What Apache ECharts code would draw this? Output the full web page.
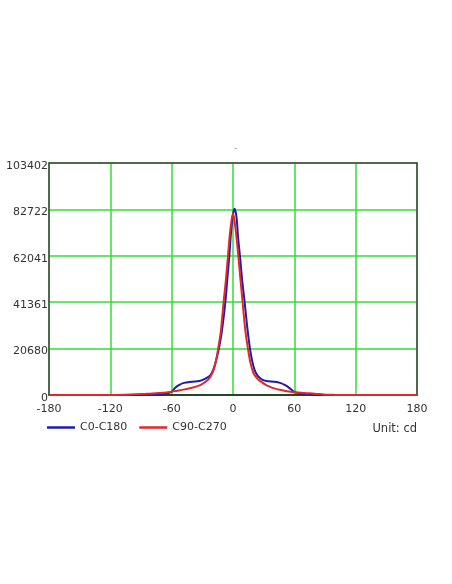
<!DOCTYPE html>
<html><head><meta charset="utf-8">
<script src="https://cdn.jsdelivr.net/npm/echarts@6/dist/echarts.min.js"></script>
<style>html,body{margin:0;padding:0;background:#fff}#c{width:452px;height:584px}</style>
</head><body><div id="c"></div>
<script>
var seriesNames = ['C0-C180', 'C90-C270'];
var yTickLabels = [0, 20680, 41361, 62041, 82722, 103402];
var xTickLabels = [-180, -120, -60, 0, 60, 120, 180];

var blueAngles = [-180, -120, -90, -80, -70, -65, -60, -57, -53, -48, -40, -33, -27, -22, -19, -16.5, -13.8, -11, -7.5, -5.5, -3.6, -2, 0, 1.6, 3.5, 5, 6.8, 9, 11.4, 14, 16.6, 18.6, 21, 24, 28, 33, 40, 46, 51, 55, 60, 65, 70, 80, 90, 120, 180];
var blueValues = [0, 0, 50, 150, 300, 700, 1500, 3000, 4400, 5400, 5900, 6200, 7300, 8900, 11600, 15500, 20680, 28000, 41361, 52000, 62041, 72000, 80500, 83000, 79000, 70000, 62041, 51000, 41361, 30000, 20680, 15560, 11300, 8600, 7000, 6200, 5900, 5400, 4400, 3200, 1400, 800, 500, 150, 50, 0, 0];

var redAngles = [-180, -120, -100, -84, -68, -60, -52, -42, -32, -24, -20, -17, -14.5, -12, -9.2, -7, -4.9, -2.5, 0, 2.5, 5.2, 7, 9.4, 12, 14.6, 17, 20, 24, 28.4, 33, 38, 48, 58, 70, 80, 90, 100, 120, 180];
var redValues = [0, 0, 200, 600, 1000, 1500, 2100, 3000, 4400, 7000, 10000, 14500, 20680, 28000, 41361, 51000, 62041, 74000, 81000, 74000, 62041, 53000, 41361, 29000, 20680, 14500, 9800, 7200, 5600, 4300, 3300, 2100, 1360, 900, 600, 150, 50, 0, 0];

function pairs(xs, ys) { return xs.map(function (x, i) { return [x, ys[i]]; }); }

var chart = echarts.init(document.getElementById('c'), null, {renderer: 'canvas'});
var font = 'DejaVu Sans';
var xMin = xTickLabels[0], xMax = xTickLabels[xTickLabels.length - 1];
var yMax = yTickLabels[yTickLabels.length - 1];
var borderAxis = {show: true, onZero: false, lineStyle: {color: '#444', width: 1.5}};
chart.setOption({
  animation: false,
  backgroundColor: '#fff',
  title: {text: '-', left: 229, top: 139, textStyle: {fontSize: 9, color: '#888', fontWeight: 'normal', fontFamily: font}},
  grid: {left: 49, right: 35, top: 163, bottom: 189, containLabel: false},
  legend: {
    left: 42, top: 417, itemWidth: 28, itemHeight: 14, itemGap: 12,
    icon: 'path://M0,6 L28,6 L28,8.5 L0,8.5 Z',
    textStyle: {fontFamily: font, fontSize: 11, color: '#333'},
    data: seriesNames
  },
  graphic: [{type: 'text', right: 35, top: 423, style: {text: 'Unit: cd', font: '11.5px "DejaVu Sans"', fill: '#333'}}],
  xAxis: [{
    type: 'value', min: xMin, max: xMax, interval: 60, position: 'bottom',
    axisLine: {show: true, onZero: false, lineStyle: {color: '#111', width: 1.5}},
    axisTick: {show: false},
    axisLabel: {fontFamily: font, fontSize: 11, color: '#333', margin: 9},
    splitLine: {show: true, lineStyle: {color: '#33dd33', width: 1.5}}
  }, {
    type: 'value', min: xMin, max: xMax, interval: 60, position: 'top',
    axisLine: borderAxis, axisTick: {show: false}, axisLabel: {show: false}, splitLine: {show: false}
  }],
  yAxis: [{
    type: 'value', min: 0, max: yMax, interval: yMax / 5, position: 'left',
    axisLine: borderAxis,
    axisTick: {show: false},
    axisLabel: {fontFamily: font, fontSize: 11, color: '#333', margin: 1, verticalAlign: 'middle',
      formatter: function (v) { var best = yTickLabels[0]; yTickLabels.forEach(function (t) { if (Math.abs(t - v) < Math.abs(best - v)) best = t; }); return '{a|' + best + '}'; },
      rich: {a: {fontFamily: font, fontSize: 11, color: '#333', padding: [6, 0, 0, 0]}}},
    splitLine: {show: true, lineStyle: {color: '#33dd33', width: 1.5}}
  }, {
    type: 'value', min: 0, max: yMax, interval: yMax / 5, position: 'right',
    axisLine: borderAxis, axisTick: {show: false}, axisLabel: {show: false}, splitLine: {show: false}
  }],
  series: [
    {name: seriesNames[0], type: 'line', data: pairs(blueAngles, blueValues), showSymbol: false, symbol: 'none', smooth: 0.35,
      lineStyle: {color: '#1c1cb0', width: 2}, itemStyle: {color: '#1c1cb0'}, z: 3},
    {name: seriesNames[1], type: 'line', data: pairs(redAngles, redValues), showSymbol: false, symbol: 'none', smooth: 0.35,
      lineStyle: {color: '#e02828', width: 2}, itemStyle: {color: '#e02828'}, z: 4}
  ]
});
</script></body></html>
